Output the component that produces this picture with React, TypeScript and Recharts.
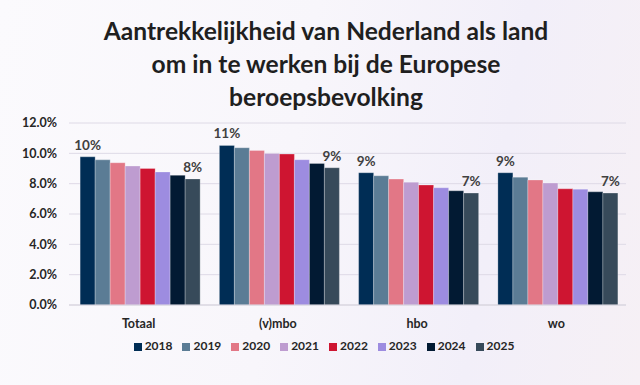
import { BarChart, Bar, XAxis, YAxis, CartesianGrid, Legend, LabelList } from "recharts"

const categories = ["Totaal", "(v)mbo", "hbo", "wo"]
const years = ["2018", "2019", "2020", "2021", "2022", "2023", "2024", "2025"]

// percentages per year, in category order
const v2018 = [9.77, 10.52, 8.72, 8.72]
const v2019 = [9.57, 10.37, 8.52, 8.43]
const v2020 = [9.38, 10.19, 8.3, 8.24]
const v2021 = [9.16, 9.99, 8.1, 8.04]
const v2022 = [9.0, 9.95, 7.91, 7.66]
const v2023 = [8.77, 9.58, 7.73, 7.64]
const v2024 = [8.55, 9.33, 7.53, 7.46]
const v2025 = [8.31, 9.05, 7.38, 7.38]

const yTicks = [0, 2, 4, 6, 8, 10, 12]

const colors = ["#002d55", "#5b7c95", "#e27786", "#be9cd0", "#ce1531", "#9d8ce0", "#021a33", "#374a5a"]

const seriesValues = [v2018, v2019, v2020, v2021, v2022, v2023, v2024, v2025]

const data = categories.map((cat, i) => {
  const row: Record<string, string | number> = { cat }
  years.forEach((y, j) => {
    row[y] = seriesValues[j][i]
  })
  return row
})

const font = "Lato, 'Open Sans', sans-serif"

export default function App() {
  return (
    <div
      style={{
        position: "fixed",
        left: 0,
        top: 0,
        width: 640,
        height: 385,
        background: "linear-gradient(100deg, #fbfafd 0%, #f8f6fb 45%, #f2eff9 75%, #f6f0f5 100%)",
        fontFamily: font,
      }}
    >
      <div
        style={{
          position: "absolute",
          top: 14,
          left: 0,
          width: 652,
          textAlign: "center",
          fontSize: 24.6,
          lineHeight: "33px",
          fontWeight: 700,
          color: "#1f1f1f",
        }}
      >
        Aantrekkelijkheid van Nederland als land
        <br />
        om in te werken bij de Europese
        <br />
        beroepsbevolking
      </div>
      <div style={{ position: "absolute", left: 0, top: 0 }}>
        <BarChart
          width={640}
          height={385}
          data={data}
          margin={{ top: 123, right: 14, bottom: 32, left: 0 }}
          barCategoryGap="8%"
          barGap={0}
        >
          <CartesianGrid vertical={false} stroke="#dedae6" />
          <XAxis
            dataKey="cat"
            tickLine={false}
            axisLine={{ stroke: "#d6d3dc" }}
            height={33}
            tickMargin={8}
            tick={{ fill: "#262626", fontSize: 12.5, fontWeight: 700, fontFamily: font }}
          />
          <YAxis
            domain={[0, 12]}
            ticks={yTicks}
            width={69}
            tickLine={false}
            axisLine={false}
            tickSize={0}
            tickMargin={12}
            tickFormatter={(v: number) => `${v.toFixed(1)}%`}
            tick={{ fill: "#262626", fontSize: 12.5, fontWeight: 700, fontFamily: font }}
          />
          <Legend
            verticalAlign="bottom"
            iconType="square"
            iconSize={8}
            wrapperStyle={{ fontSize: 12, fontWeight: 700, fontFamily: font, paddingLeft: 16 }}
            formatter={(value: string) => <span style={{ color: "#262626", marginLeft: -1 }}>{value}</span>}
          />
          {years.map((y, j) => (
            <Bar key={y} dataKey={y} fill={colors[j]} stroke="#ffffff" strokeOpacity={0.5} strokeWidth={0.5} isAnimationActive={false}>
              {(j === 0 || j === years.length - 1) && (
                <LabelList
                  dataKey={y}
                  position="top"
                  offset={7}
                  formatter={(v: number) => `${Math.round(v)}%`}
                  style={{ fill: "#404040", fontSize: 13.5, fontWeight: 700, fontFamily: font }}
                />
              )}
            </Bar>
          ))}
        </BarChart>
      </div>
    </div>
  )
}
